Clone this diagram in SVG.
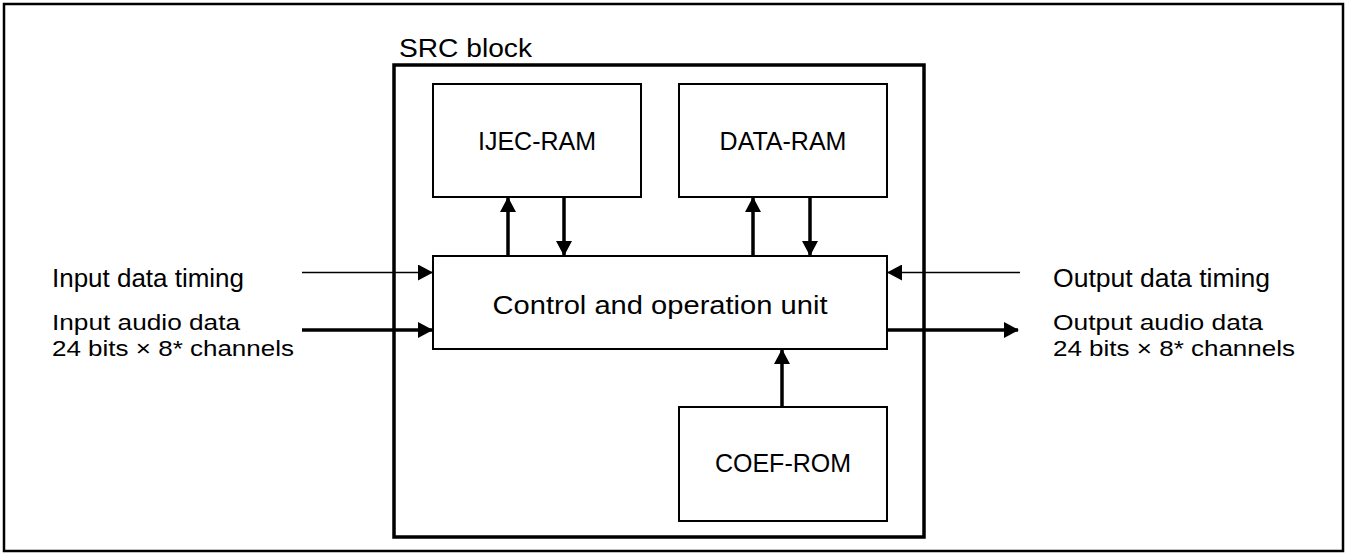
<svg xmlns="http://www.w3.org/2000/svg" width="1347" height="554" viewBox="0 0 1347 554">
<style>
.box{fill:#fff;stroke:#000;stroke-width:2}
.t{font-family:"Liberation Sans",Arial,sans-serif;font-size:25px;fill:#000}
.s{font-size:22.5px}
.c{text-anchor:middle}
.thin{stroke:#000;stroke-width:1.6;fill:none}
.thick{stroke:#000;stroke-width:3.5;fill:none}
</style>
<defs>
<marker id="ah" markerUnits="userSpaceOnUse" markerWidth="15" markerHeight="16" refX="14" refY="8" orient="auto">
<path d="M0,0 L15,8 L0,16 Z" fill="#000"/>
</marker>
</defs>
<rect x="4" y="4" width="1339" height="547" fill="#fff" stroke="#000" stroke-width="2.5"/>
<g id="src-block">
<rect x="394" y="65" width="530" height="472" fill="none" stroke="#000" stroke-width="3.5"/>
<text class="t" x="399" y="57" style="font-size:26px" textLength="133" lengthAdjust="spacingAndGlyphs">SRC block</text>
</g>
<g id="ijec-ram">
<rect class="box" x="433" y="84" width="208" height="113"/>
<text class="t c" x="537" y="150">IJEC-RAM</text>
</g>
<g id="data-ram">
<rect class="box" x="679" y="84" width="208" height="113"/>
<text class="t c" x="783" y="150">DATA-RAM</text>
</g>
<g id="control">
<rect class="box" x="433" y="256" width="454" height="93"/>
<text class="t c" x="660" y="314" textLength="335" lengthAdjust="spacingAndGlyphs">Control and operation unit</text>
</g>
<g id="coef-rom">
<rect class="box" x="679" y="407" width="208" height="114"/>
<text class="t c" x="783" y="472">COEF-ROM</text>
</g>
<g id="labels">
<text class="t" x="52" y="287" textLength="192" lengthAdjust="spacingAndGlyphs">Input data timing</text>
<text class="t s" x="52" y="330" textLength="188" lengthAdjust="spacingAndGlyphs">Input audio data</text>
<text class="t s" x="52" y="356" textLength="242" lengthAdjust="spacingAndGlyphs">24 bits × 8* channels</text>
<text class="t" x="1053" y="287" textLength="217" lengthAdjust="spacingAndGlyphs">Output data timing</text>
<text class="t s" x="1053" y="330" textLength="210" lengthAdjust="spacingAndGlyphs">Output audio data</text>
<text class="t s" x="1053" y="356" textLength="242" lengthAdjust="spacingAndGlyphs">24 bits × 8* channels</text>
</g>
<g id="connectors">
<line class="thick" x1="508" y1="256" x2="508" y2="198" marker-end="url(#ah)"/>
<line class="thick" x1="564" y1="197" x2="564" y2="255" marker-end="url(#ah)"/>
<line class="thick" x1="753" y1="256" x2="753" y2="198" marker-end="url(#ah)"/>
<line class="thick" x1="810" y1="197" x2="810" y2="255" marker-end="url(#ah)"/>
<line class="thick" x1="782" y1="407" x2="782" y2="350" marker-end="url(#ah)"/>
<line class="thin" x1="302" y1="272.5" x2="432" y2="272.5" marker-end="url(#ah)"/>
<line class="thick" x1="302" y1="330" x2="432" y2="330" marker-end="url(#ah)"/>
<line class="thin" x1="1020" y1="272.5" x2="888" y2="272.5" marker-end="url(#ah)"/>
<line class="thick" x1="887" y1="330" x2="1018" y2="330" marker-end="url(#ah)"/>
</g>
</svg>
